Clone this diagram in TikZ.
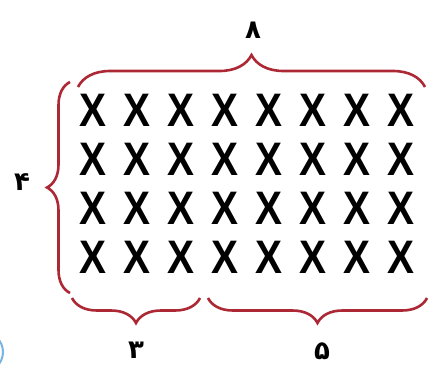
\documentclass[tikz,border=0pt]{standalone}
\usepackage{fontspec}
\setmainfont{Liberation Sans}
\newfontfamily\persianfont[Script=Arabic]{DejaVu Sans}
\usetikzlibrary{decorations.pathreplacing,positioning}
\definecolor{bracered}{RGB}{172,40,52}
\definecolor{edgeblue}{RGB}{120,180,225}

\begin{document}
\begin{tikzpicture}[
  x=1pt, y=-1pt,
  cross/.style={font=\bfseries\fontsize{47}{47}\selectfont, inner sep=0pt, xscale=0.86},
  brc/.style={draw=bracered, line width=2.6pt, decorate,
    decoration={brace, amplitude=#1}},
  num/.style={font=\persianfont\bfseries\fontsize{26}{26}\selectfont, inner sep=0pt}
]
\useasboundingbox (0,0) rectangle (438,370);
% grid of crosses
\foreach \r in {1,...,4}
  \foreach \c in {1,...,8}
    \node[cross] (x-\r-\c) at ({93+44*(\c-1)},{110+49*(\r-1)}) {X};
% brace ends
\coordinate (topl) at (78,87);
\coordinate (topr) at (425,87);
\coordinate (leftt) at (70,82);
\coordinate (leftb) at (70,293);
\coordinate (bla) at (72,298);
\coordinate (blb) at (200,298);
\coordinate (bra) at (208,298);
\coordinate (brb) at (427,298);
\draw[brc=32] (topl) -- (topr);
\draw[brc=23] (leftb) -- (leftt);
\draw[brc=25] (blb) -- (bla);
\draw[brc=25] (brb) -- (bra);
% labels
\node[num] (eight) at (253,30) {۸};
\node[num] (four) at (22,182) {۴};
\node[num] (three) at (136,350) {۳};
\node[num] (five) at (322,351) {۵};
% edge of a circle cut off at the corner
\begin{scope}
  \clip (0,0) rectangle (438,370);
  \draw[edgeblue, line width=2pt] (-17,352) circle (20);
\end{scope}
\end{tikzpicture}
\end{document}
